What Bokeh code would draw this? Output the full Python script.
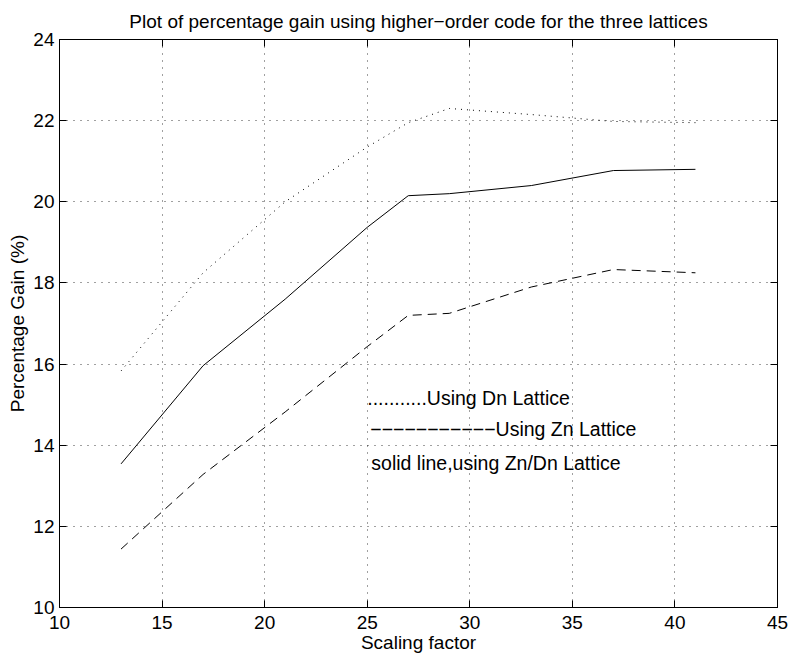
from bokeh.plotting import figure
from bokeh.models import Range1d, FixedTicker, LinearAxis, Title
from bokeh.core.properties import value
from bokeh.embed import file_html
from bokeh.resources import INLINE

# ---- data ----
scaling = [13, 17, 21, 25, 27, 29, 33, 37, 41]
gain_dn = [15.83, 18.25, 20.0, 21.35, 21.95, 22.3, 22.15, 21.98, 21.95]
gain_zn = [11.44, 13.28, 14.82, 16.43, 17.2, 17.25, 17.9, 18.33, 18.25]
gain_zndn = [13.54, 15.96, 17.6, 19.37, 20.15, 20.2, 20.4, 20.77, 20.8]

x_ticks = [10, 15, 20, 25, 30, 35, 40, 45]
y_ticks = [10, 12, 14, 16, 18, 20, 22, 24]

ann_x = [25.0, 25.15, 25.2]
ann_y = [15.17, 14.40, 13.55]
ann_text = ["..........." + "Using Dn Lattice",
            "\u2212" * 11 + "Using Zn Lattice",
            "solid line,using Zn/Dn Lattice"]

FONT = "Liberation Sans"

p = figure(frame_width=718, frame_height=568,
           min_border_left=59, min_border_right=11, min_border_top=38, min_border_bottom=44,
           x_range=Range1d(10, 45), y_range=Range1d(10, 24),
           output_backend="svg", toolbar_location=None,
           background_fill_color="white", border_fill_color="white")

p.title = Title(text="Plot of percentage gain using higher\u2212order code for the three lattices",
                text_font=FONT, text_font_size="19px", text_font_style="normal",
                align="center", standoff=16, offset=0, text_color="black")

p.outline_line_color = "black"
p.outline_line_width = 1

for ax, tk in ((p.xaxis[0], x_ticks), (p.yaxis[0], y_ticks)):
    ax.ticker = FixedTicker(ticks=tk)
    ax.major_tick_in = 7
    ax.major_tick_out = 0
    ax.minor_tick_line_color = None
    ax.axis_line_color = "black"
    ax.major_tick_line_color = "black"
    ax.major_label_text_font = FONT
    ax.major_label_text_font_size = "19px"
    ax.major_label_text_color = "black"
    ax.axis_label_text_font = FONT
    ax.axis_label_text_font_size = "19px"
    ax.axis_label_text_font_style = "normal"
    ax.axis_label_text_color = "black"

p.xaxis[0].axis_label = "Scaling factor"
p.xaxis[0].major_label_standoff = 8
p.xaxis[0].axis_label_standoff = 0
p.yaxis[0].axis_label = "Percentage Gain (%)"
p.yaxis[0].major_label_standoff = 5
p.yaxis[0].axis_label_standoff = 2

for loc, tk in (("right", y_ticks), ("above", x_ticks)):
    ax = LinearAxis(ticker=FixedTicker(ticks=tk), major_tick_in=7, major_tick_out=0,
                    minor_tick_line_color=None, axis_line_color="black",
                    major_label_overrides={t: "" for t in tk}, major_label_standoff=0)
    p.add_layout(ax, loc)

p.xgrid.ticker = FixedTicker(ticks=x_ticks)
p.ygrid.ticker = FixedTicker(ticks=y_ticks)
p.grid.grid_line_color = "black"
p.grid.grid_line_alpha = 0.75
p.grid.grid_line_dash = "1 6"
p.grid.grid_line_width = 1

p.line(scaling, gain_dn, line_color="black", line_width=1, line_dash="1 5")
p.line(scaling, gain_zn, line_color="black", line_width=1, line_dash="9 6")
p.line(scaling, gain_zndn, line_color="black", line_width=1)

p.text(x=ann_x, y=ann_y, text=ann_text, text_font=value(FONT), text_font_size="19.5px",
       text_baseline="alphabetic", text_align="left", text_color="black")

open("out.html", "w").write(file_html(p, INLINE))
